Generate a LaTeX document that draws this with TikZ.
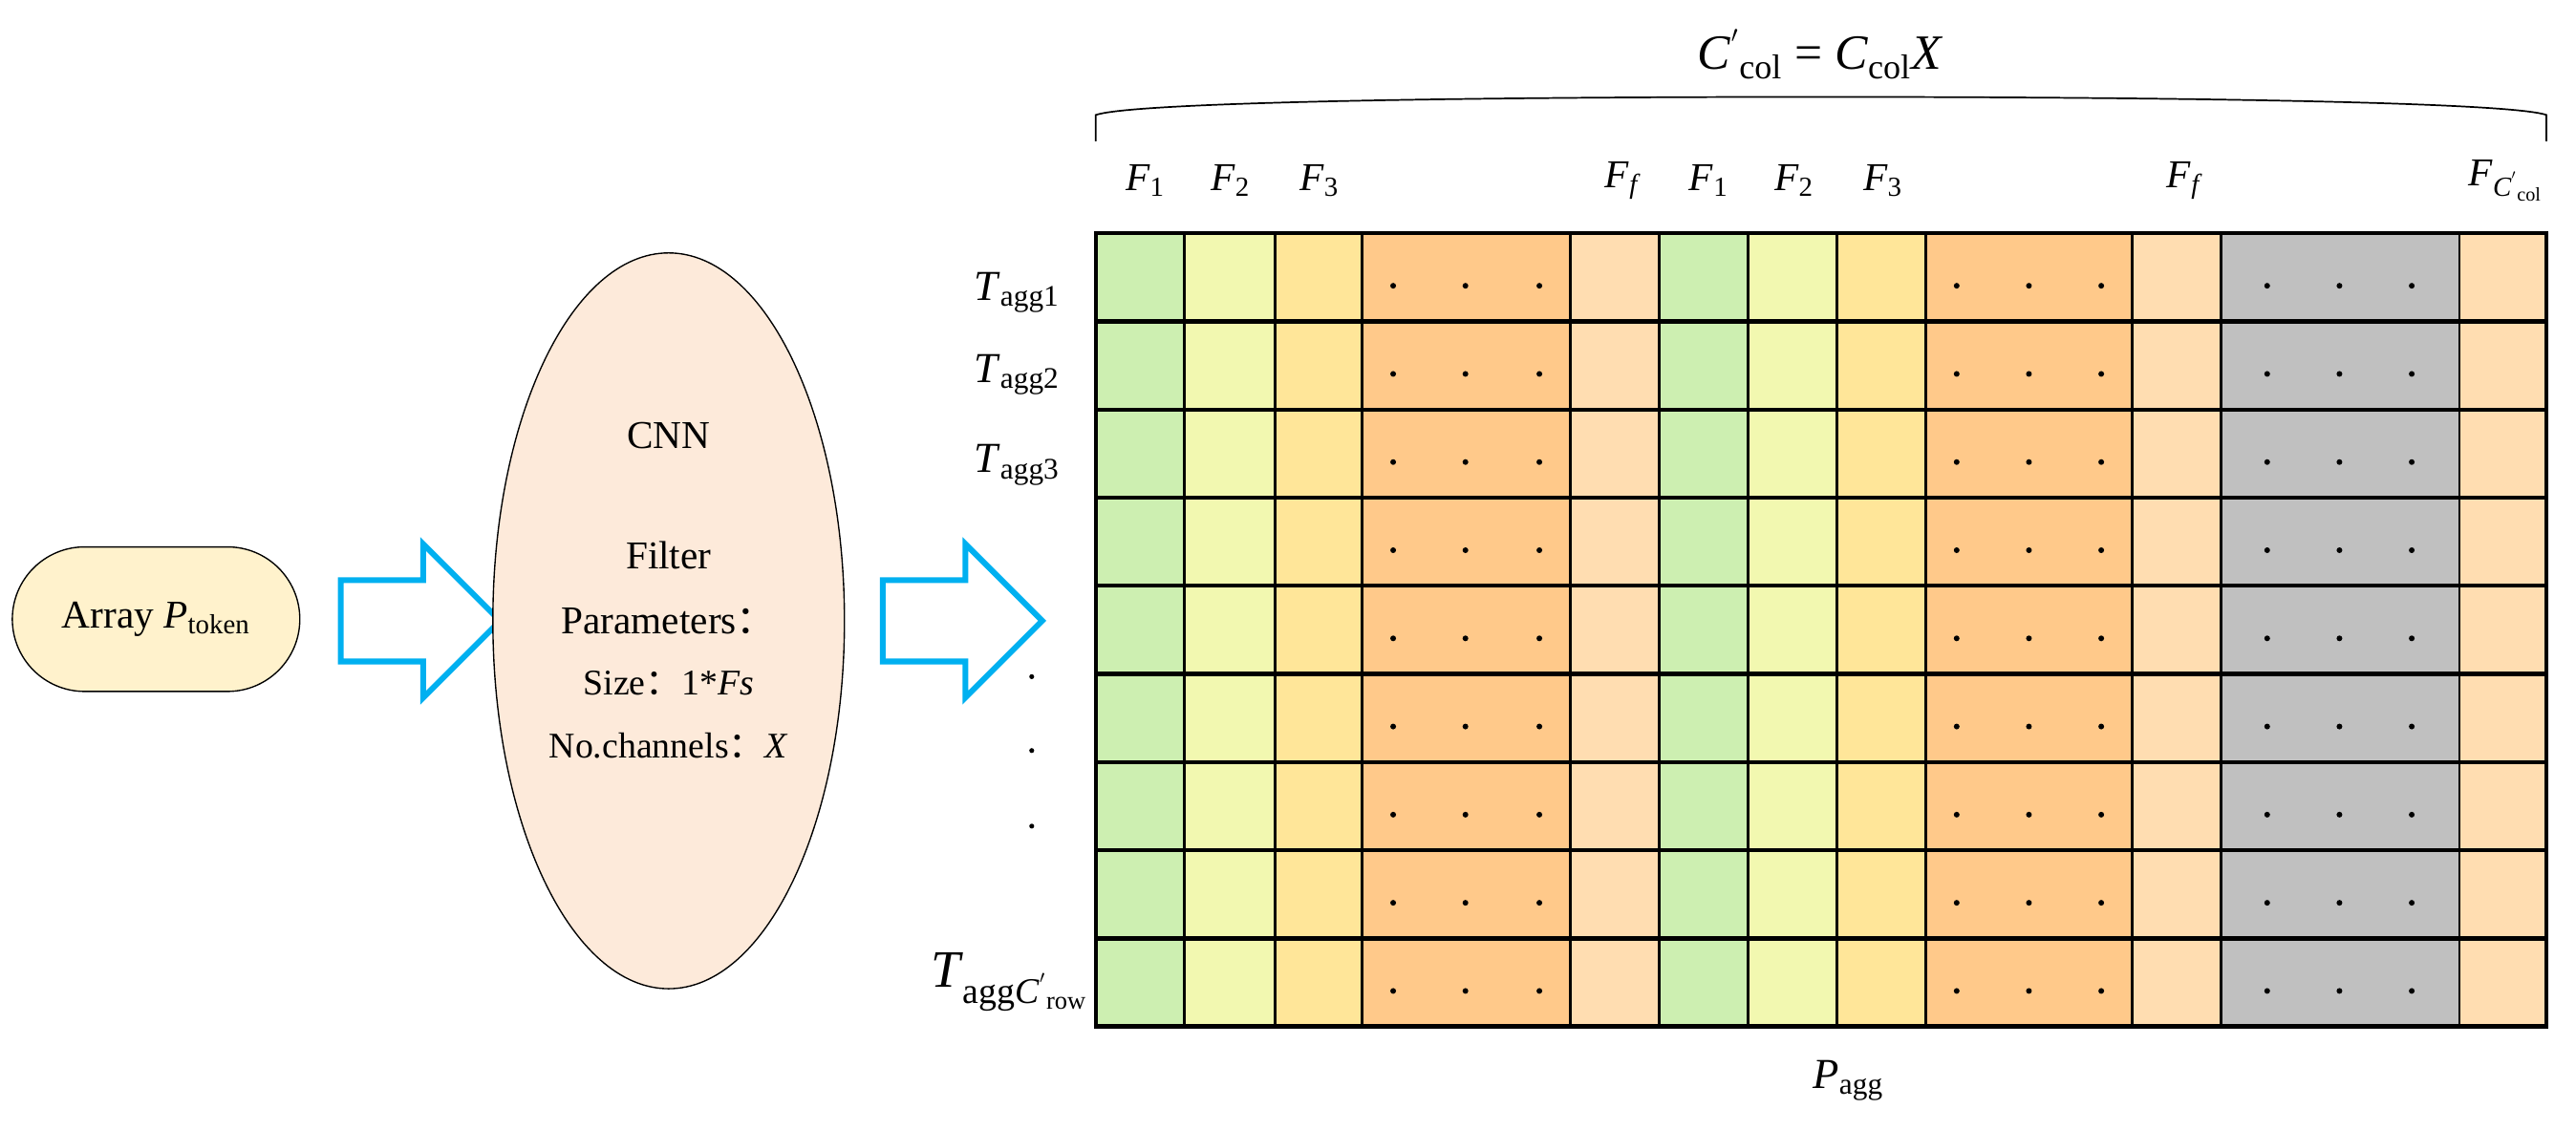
\documentclass[tikz,border=0pt]{standalone}
\usepackage{fontspec}
\setmainfont{Liberation Serif}
\newfontfamily\cjk{Noto Sans CJK SC}
\usetikzlibrary{shapes.geometric,shapes.arrows}
\definecolor{cg}{HTML}{CDEFB1}
\definecolor{cly}{HTML}{F2F8B0}
\definecolor{cy}{HTML}{FFE699}
\definecolor{co}{HTML}{FFC98A}
\definecolor{cp}{HTML}{FFDDB1}
\definecolor{cgr}{HTML}{C0C0C0}
\definecolor{cyanb}{HTML}{00B0F0}
\definecolor{capsule}{HTML}{FFF2CC}
\definecolor{ell}{HTML}{FDEADA}
\newcommand{\ti}[1]{\textit{#1}}
\newcommand{\fc}{{\cjk ：}}
\tikzset{
 txt/.style={inner sep=0pt,font=\fontsize{24}{28}\selectfont},
 lbl/.style={inner sep=0pt,font=\fontsize{26}{30}\selectfont},
 hollow/.style={single arrow,draw=cyanb,line width=3.5pt,fill=white,inner sep=0pt,inner ysep=23pt,
   single arrow head extend=22pt,single arrow head indent=0pt,minimum height=97pt},
 dot/.style={circle,fill=black,inner sep=0pt,minimum size=3.5pt}
}
\begin{document}
\begin{tikzpicture}[x=1pt,y=-1pt]
\useasboundingbox (0,0) rectangle (1568,688);
% capsule
\node[draw,fill=capsule,rounded corners=44pt,minimum width=175pt,minimum height=88pt,txt,line width=0.8pt] (arr) at (95,377) {Array \ti{P}\textsubscript{token}};
\node[hollow] (a1) at (243.5,378) {};
\node[ellipse,draw,fill=ell,minimum width=214pt,minimum height=448pt,line width=0.8pt] (cnn) at (407,378) {};
\node[txt] (t1) at (407,265) {CNN};
\node[txt] (t2) at (407,338) {Filter};
\node[txt] (t3) at (407,378) {Parameters\fc};
\node[txt,font=\fontsize{22}{26}\selectfont] (t4) at (407,416) {Size\fc 1*\ti{Fs}};
\node[txt,font=\fontsize{22}{26}\selectfont] (t5) at (407,454) {No.channels\fc \ti{X}};
\node[hollow] (a2) at (573.5,378) {};
% grid columns
\def\yt{142}\def\yb{625}
\foreach \xa/\xb/\c in {667/721/cg,721/776/cly,776/829/cy,829/956/co,956/1010/cp,1010/1064/cg,1064/1118/cly,1118/1172/cy,1172/1298/co,1298/1352/cp,1352/1497/cgr,1497/1550/cp}
  \fill[\c] (\xa,\yt) rectangle (\xb,\yb);
\foreach \x in {721,776,829,956,1010,1064,1118,1172,1298,1352,1497}
  \draw[line width=1.6pt] (\x,\yt) -- (\x,\yb);
\foreach \i in {1,...,8}
  \draw[line width=2.5pt] (667,{\yt+\i*53.67}) -- (1550,{\yt+\i*53.67});
\draw[line width=2.5pt] (667,\yt) rectangle (1550,\yb);
\foreach \i in {0,...,8}{
  \foreach \x in {848,892,937,1191,1235,1279,1380,1424,1468}
    \node[dot] at (\x,{\yt+\i*53.67+32}) {};
}
% brace
\draw[line width=1pt] (667,86) -- (667,70) .. controls (690,62) and (900,59) .. (1108,59) .. controls (1316,59) and (1527,62) .. (1550,70) -- (1550,86);
\node[lbl,font=\fontsize{30}{34}\selectfont] (cc) at (1108,33) {\ti{C}$^{'}$\textsubscript{col} = \ti{C}\textsubscript{col}\ti{X}};
% F labels
\foreach \x/\s in {697/1,749/2,803/3,1040/1,1092/2,1146/3}
  \node[txt] at (\x,110) {\ti{F}\textsubscript{\s}};
\foreach \x in {988,1330}
  \node[txt] at (\x,110) {\ti{F}\textsubscript{\ti{f}}};
\node[txt] at (1525,110) {\ti{F}\textsubscript{\ti{C}$^{'}$\textsubscript{col}}};
% row labels
\node[lbl,anchor=east] (r1) at (645,178) {\ti{T}\textsubscript{agg1}};
\node[lbl,anchor=east] (r2) at (645,228) {\ti{T}\textsubscript{agg2}};
\node[lbl,anchor=east] (r3) at (645,283) {\ti{T}\textsubscript{agg3}};
\foreach \y in {412,457,503} \node[dot,minimum size=3pt] at (628,\y) {};
\node[lbl,anchor=east,font=\fontsize{32}{36}\selectfont] (rn) at (662,598) {\ti{T}\textsubscript{\fontsize{22}{24}\selectfont agg\ti{C}$^{'}$\textsubscript{row}}};
\node[lbl] (pa) at (1125,658) {\ti{P}\textsubscript{agg}};
\end{tikzpicture}
\end{document}
